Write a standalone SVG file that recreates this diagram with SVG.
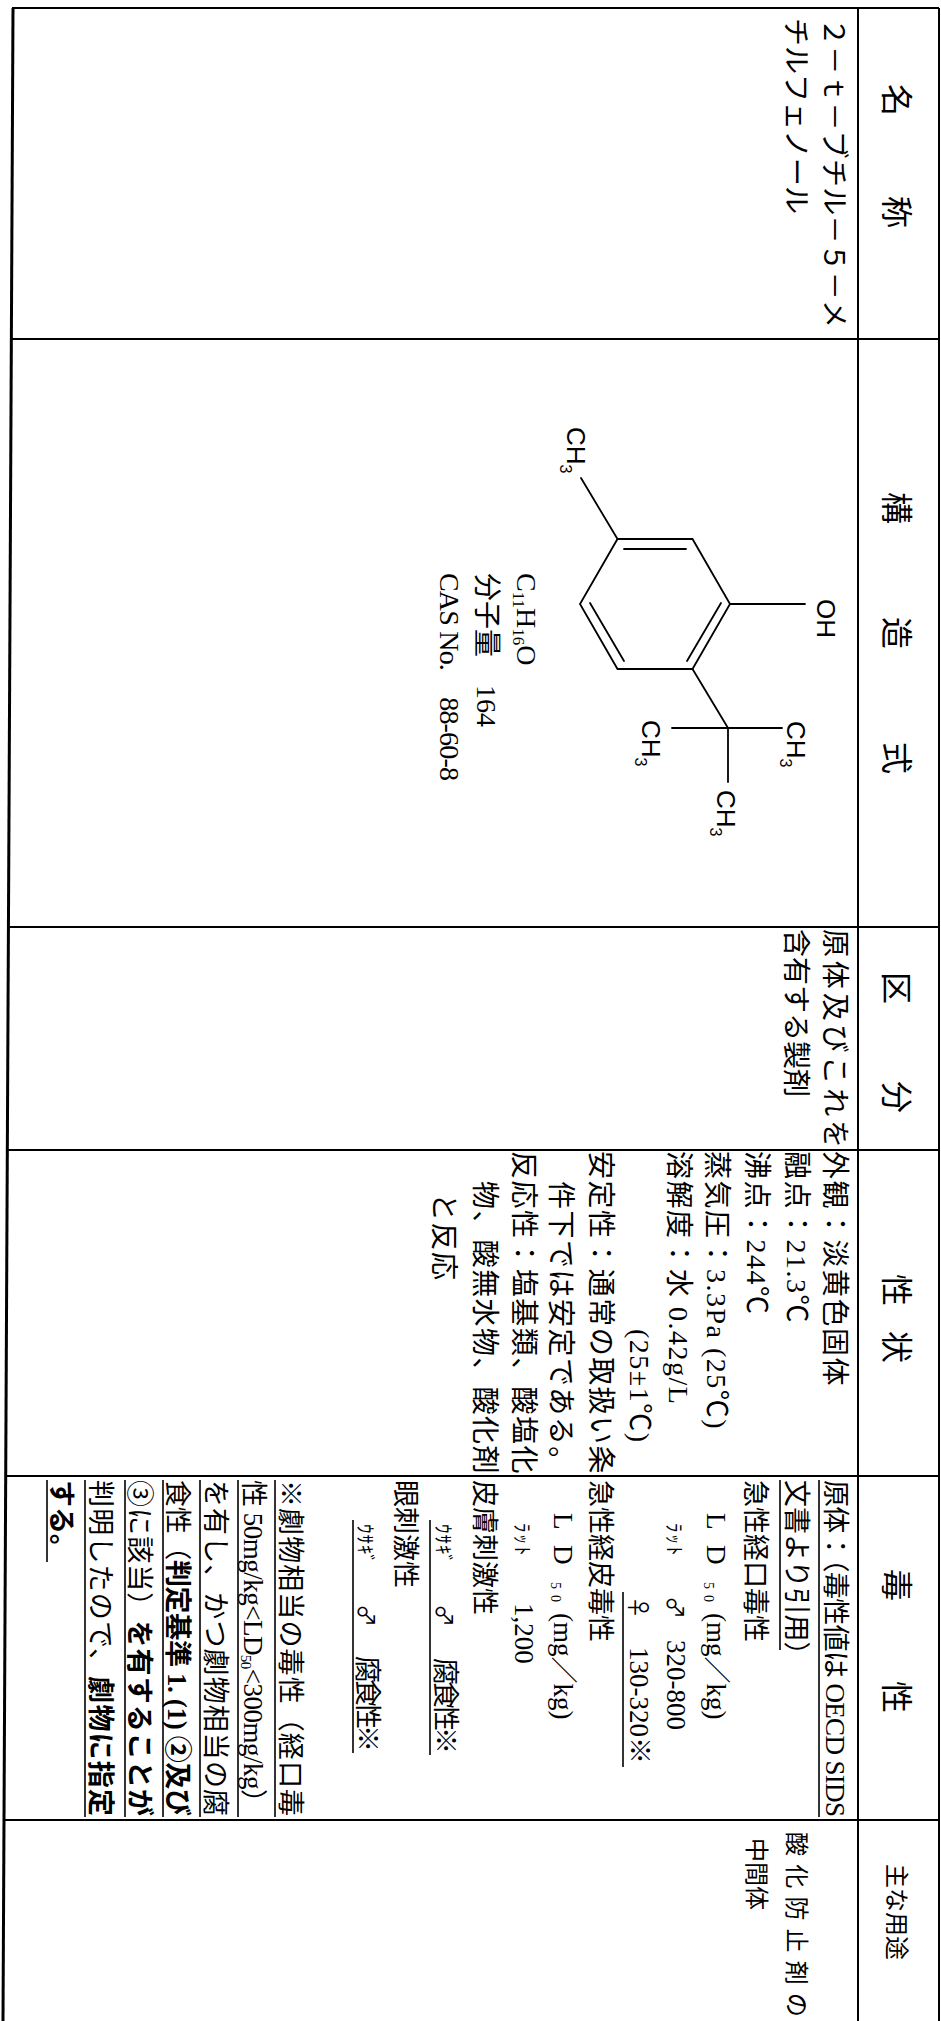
<svg xmlns="http://www.w3.org/2000/svg" width="941" height="2021" viewBox="0 0 941 2021">
<style>
.bg{fill:#fff}
.grid{stroke:#000;stroke-width:2;fill:none}
.thick{stroke:#000;stroke-width:3;fill:none}
.bond{stroke:#000;stroke-width:1.8;fill:none;stroke-linecap:round}
.ul{stroke:#000;stroke-width:1.6}
.h{font-family:"Noto Sans CJK JP",sans-serif;font-size:32px;text-anchor:middle;fill:#000}
.t{font-family:"Liberation Serif","Noto Sans CJK JP",serif;font-size:28px;fill:#000}
.t2{font-family:"Liberation Serif","Noto Sans CJK JP",serif;font-size:27px;fill:#000}
.s{font-family:"Liberation Sans",Arial,sans-serif;font-size:26px;fill:#000}
.sub{font-size:16px}
.b{font-weight:bold}
.sym{font-family:"Noto Sans CJK JP",sans-serif;font-size:23px}
.kana{font-family:"Noto Sans CJK JP",sans-serif;font-size:19px}
</style>
<rect class="bg" x="0" y="0" width="941" height="2021"/>

<g id="table-grid">
  <line class="grid" x1="12" y1="8" x2="939" y2="8"/>
  <line class="thick" x1="13" y1="8" x2="3" y2="2021"/>
  <line class="grid" x1="939" y1="8" x2="939" y2="2021"/>
  <line class="grid" x1="858" y1="8" x2="858" y2="2021"/>
  <line class="grid" x1="11" y1="339" x2="939" y2="339"/>
  <line class="grid" x1="8" y1="927" x2="939" y2="927"/>
  <line class="grid" x1="7" y1="1150" x2="939" y2="1150"/>
  <line class="grid" x1="5" y1="1476" x2="939" y2="1476"/>
  <line class="grid" x1="4" y1="1820" x2="939" y2="1820"/>
</g>

<g id="structure-bonds">
  <polygon class="bond" points="617.5,539 692.5,539 730,604 692.5,669 617.5,669 580,604"/>
  <line class="bond" x1="624" y1="549" x2="686" y2="549"/>
  <line class="bond" x1="721" y1="603" x2="687" y2="661"/>
  <line class="bond" x1="590" y1="603" x2="624" y2="661"/>
  <line class="bond" x1="617.5" y1="539" x2="581" y2="478"/>
  <line class="bond" x1="730" y1="604" x2="805" y2="604"/>
  <line class="bond" x1="692.5" y1="669" x2="728" y2="728"/>
  <line class="bond" x1="672" y1="728" x2="782" y2="728"/>
  <line class="bond" x1="728" y1="728" x2="728" y2="782"/>
</g>

<g id="page" transform="translate(941 0) rotate(90)">
  <g id="headers">
    <text class="h" x="100 212" y="56">名称</text>
    <text class="h" x="508 633 758" y="56">構造式</text>
    <text class="h" x="988 1097" y="56">区分</text>
    <text class="h" x="1290 1347" y="56">性状</text>
    <text class="h" x="1585 1697" y="56">毒性</text>
    <text class="h" x="1912" y="53" style="font-size:24px">主な用途</text>
  </g>

  <g id="cell-name">
    <text class="t" x="18" y="117" textLength="310">２－ｔ－ブチル－５－メ</text>
    <text class="t" x="18" y="155">チルフェノール</text>
  </g>

  <g id="cell-structure">
    <text class="s" x="427" y="374">CH<tspan class="sub" dy="7">3</tspan></text>
    <text class="s" x="599" y="124">OH</text>
    <text class="s" x="720" y="299">CH<tspan class="sub" dy="7">3</tspan></text>
    <text class="s" x="721" y="154">CH<tspan class="sub" dy="7">3</tspan></text>
    <text class="s" x="790" y="224">CH<tspan class="sub" dy="7">3</tspan></text>
    <text class="t" x="573" y="424">C<tspan font-size="17" dy="4">11</tspan><tspan dy="-4">H</tspan><tspan font-size="17" dy="4">16</tspan><tspan dy="-4">O</tspan></text>
    <text class="t" x="573" y="464">分子量　164</text>
    <text class="t" x="573" y="501" textLength="208">CAS No.　88-60-8</text>
  </g>

  <g id="cell-category">
    <text class="t" x="929" y="116" textLength="219">原体及びこれを</text>
    <text class="t" x="929" y="155">含有する製剤</text>
  </g>

  <g id="cell-properties" style="letter-spacing:1.5px">
    <text class="t" x="1151" y="116">外観：淡黄色固体</text>
    <text class="t" x="1151" y="154">融点：21.3℃</text>
    <text class="t" x="1151" y="194">沸点：244℃</text>
    <text class="t" x="1151" y="234">蒸気圧：3.3Pa (25℃)</text>
    <text class="t" x="1151" y="272">溶解度：水 0.42g/L</text>
    <text class="t" x="1329" y="311">(25±1℃)</text>
    <text class="t" x="1151" y="350" textLength="324">安定性：通常の取扱い条</text>
    <text class="t" x="1181" y="390">件下では安定である。</text>
    <text class="t" x="1151" y="427" textLength="324">反応性：塩基類、酸塩化</text>
    <text class="t" x="1181" y="466" textLength="294">物、酸無水物、酸化剤</text>
    <text class="t" x="1193" y="507">と反応</text>
  </g>

  <g id="cell-toxicity">
    <text class="t2" x="1480" y="115.5" textLength="337">原体：（毒性値は OECD SIDS</text>
    <text class="t2" x="1480" y="154.5">文書より引用）</text>
    <text class="t2" x="1480" y="195.5">急性経口毒性</text>
    <text class="t2" y="234.5"><tspan x="1513">L</tspan><tspan x="1545">D</tspan><tspan x="1582" font-size="14" letter-spacing="6" dy="3">50</tspan><tspan x="1613" dy="-3">(mg／kg)</tspan></text>
    <text class="t2" y="274.5"><tspan x="1523" class="kana" letter-spacing="2">ﾗｯﾄ</tspan><tspan x="1596" class="sym">♂</tspan><tspan x="1640">320-800</tspan></text>
    <text class="t2" y="311.5"><tspan x="1596" class="sym">♀</tspan><tspan x="1647">130-320※</tspan></text>
    <text class="t2" x="1480" y="350.5">急性経皮毒性</text>
    <text class="t2" y="387.5"><tspan x="1513">L</tspan><tspan x="1545">D</tspan><tspan x="1582" font-size="14" letter-spacing="6" dy="3">50</tspan><tspan x="1613" dy="-3">(mg／kg)</tspan></text>
    <text class="t2" y="426.5"><tspan x="1523" class="kana" letter-spacing="2">ﾗｯﾄ</tspan><tspan x="1603">1,200</tspan></text>
    <text class="t2" x="1480" y="466.5">皮膚刺激性</text>
    <text class="t2" y="505.5"><tspan x="1524" class="kana" letter-spacing="1">ｳｻｷﾞ</tspan><tspan x="1604" class="sym">♂</tspan><tspan x="1658" textLength="96">腐食性※</tspan></text>
    <text class="t2" x="1480" y="545.5">眼刺激性</text>
    <text class="t2" y="583.5"><tspan x="1524" class="kana" letter-spacing="1">ｳｻｷﾞ</tspan><tspan x="1604" class="sym">♂</tspan><tspan x="1656" textLength="96">腐食性※</tspan></text>
    <text class="t2" x="1480" y="660.5" textLength="336">※劇物相当の毒性（経口毒</text>
    <text class="t2" x="1480" y="697.5" textLength="336">性 50mg/kg&lt;LD<tspan font-size="15" dy="3">50</tspan><tspan dy="-3">&lt;300mg/kg）</tspan></text>
    <text class="t2" x="1480" y="735.5" textLength="336">を有し、かつ劇物相当の腐</text>
    <text class="t2" x="1480" y="773.5" textLength="336">食性（<tspan class="b">判定基準 1. (1) ②及び</tspan></text>
    <text class="t2" x="1480" y="811.5" textLength="336">③に該当）<tspan class="b">を有することが</tspan></text>
    <text class="t2" x="1480" y="850.5" textLength="336">判明したので、<tspan class="b">劇物に指定</tspan></text>
    <text class="t2 b" x="1480" y="889.5">する。</text>
    <line class="ul" x1="1480" y1="122" x2="1817" y2="122"/>
    <line class="ul" x1="1480" y1="161" x2="1650" y2="161"/>
    <line class="ul" x1="1592" y1="318" x2="1767" y2="318"/>
    <line class="ul" x1="1520" y1="511" x2="1755" y2="511"/>
    <line class="ul" x1="1520" y1="588" x2="1753" y2="588"/>
    <line class="ul" x1="1480" y1="666" x2="1817" y2="666"/>
    <line class="ul" x1="1480" y1="703" x2="1817" y2="703"/>
    <line class="ul" x1="1480" y1="741" x2="1817" y2="741"/>
    <line class="ul" x1="1480" y1="778" x2="1817" y2="778"/>
    <line class="ul" x1="1480" y1="816" x2="1817" y2="816"/>
    <line class="ul" x1="1480" y1="856" x2="1817" y2="856"/>
    <line class="ul" x1="1480" y1="894" x2="1562" y2="894"/>
  </g>

  <g id="cell-use">
    <text class="t" x="1832" y="153" style="font-size:24px" textLength="185">酸化防止剤の</text>
    <text class="t" x="1838" y="193" style="font-size:24px">中間体</text>
  </g>
</g>
</svg>
